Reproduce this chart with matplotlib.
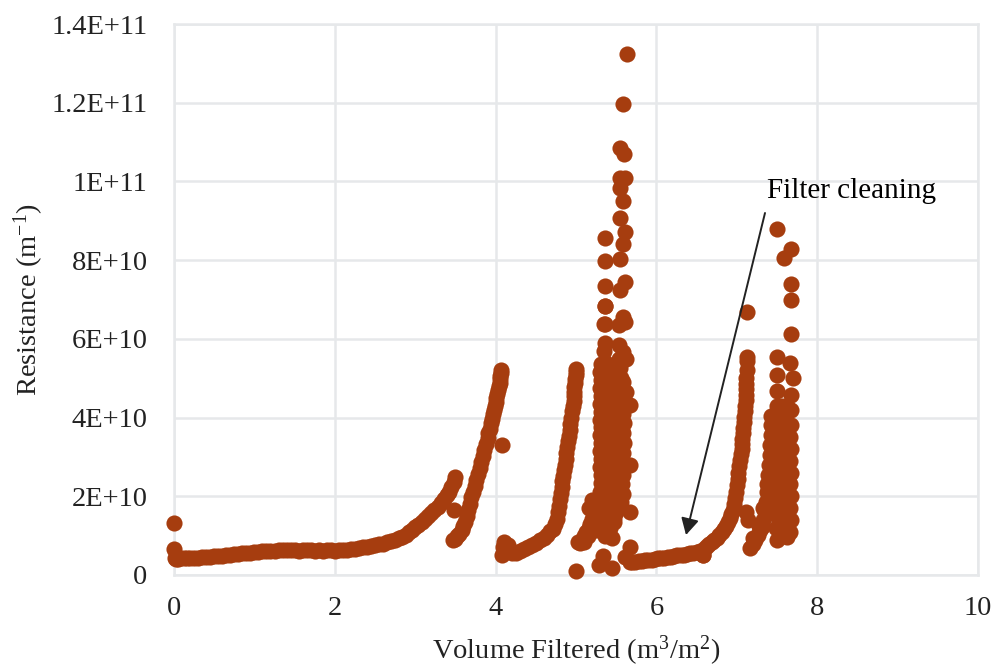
import matplotlib
matplotlib.use("Agg")
import matplotlib.pyplot as plt

plt.rcParams['font.family'] = ['Liberation Serif', 'DejaVu Serif']
plt.rcParams['mathtext.fontset'] = 'custom'
plt.rcParams['mathtext.rm'] = 'Liberation Serif'
plt.rcParams['mathtext.default'] = 'regular'

X_LABEL = "Volume Filtered (m$^{3}$/m$^{2}$)"
Y_LABEL = "Resistance (m$^{-1}$)"
X_TICKS = [0, 2, 4, 6, 8, 10]
Y_TICKS = [0, 2e10, 4e10, 6e10, 8e10, 1e11, 1.2e11, 1.4e11]
Y_TICK_LABELS = ["0", "2E+10", "4E+10", "6E+10", "8E+10", "1E+11", "1.2E+11", "1.4E+11"]

# y values below are in units of 1E+10
run1_x = [0.0,0.0,0.01,0.02,0.05,0.08,0.12,0.16,0.2,0.25,0.3,0.35,0.4,0.45,0.5,0.55,0.6,0.65,0.7,0.75,0.8,0.85,0.9,0.95,1.0,1.05,1.1,1.15,1.2,1.25,1.3,1.35,1.4,1.45,1.5,1.55,1.6,1.65,1.7,1.75,1.8,1.85,1.9,1.95,2.0,2.05,2.1,2.15,2.2,2.25,2.3,2.35,2.4,2.45,2.5,2.55,2.6,2.65,2.7,2.75,2.8,2.84,2.88,2.92,2.96,3.0,3.04,3.08,3.12,3.16,3.2,3.24,3.28,3.32,3.36,3.39,3.42,3.45,3.48,3.5]
run1_y = [1.32,0.66,0.42,0.4,0.41,0.42,0.42,0.43,0.43,0.44,0.44,0.45,0.46,0.47,0.48,0.49,0.48,0.51,0.52,0.53,0.54,0.55,0.56,0.57,0.58,0.59,0.6,0.61,0.61,0.62,0.63,0.63,0.63,0.64,0.63,0.62,0.63,0.63,0.64,0.61,0.63,0.62,0.63,0.63,0.62,0.64,0.64,0.64,0.65,0.66,0.68,0.7,0.72,0.74,0.76,0.78,0.8,0.83,0.86,0.89,0.93,0.96,1.02,1.08,1.14,1.21,1.28,1.35,1.42,1.5,1.58,1.66,1.74,1.83,1.93,2.02,2.12,2.24,2.37,2.5]

run2_x = [3.47,3.49,3.52,3.55,3.58,3.6,3.62,3.64,3.66,3.68,3.7,3.72,3.74,3.76,3.78,3.8,3.82,3.84,3.86,3.88,3.9,3.91,3.93,3.94,3.96,3.97,3.98,3.99,4.0,4.01,4.02,4.03,4.04,4.05,4.05,4.06,4.07,4.07]
run2_y = [0.9,0.92,0.98,1.05,1.15,1.25,1.35,1.5,1.65,1.8,1.98,2.12,2.27,2.42,2.57,2.72,2.88,3.02,3.18,3.32,3.48,3.6,3.72,3.85,3.97,4.1,4.2,4.3,4.4,4.5,4.6,4.7,4.8,4.88,4.97,5.05,5.12,5.2]

run3_x = [4.08,4.09,4.1,4.13,4.16,4.2,4.25,4.3,4.35,4.4,4.45,4.5,4.55,4.6,4.64,4.68,4.71,4.74,4.76,4.78,4.79,4.8,4.81,4.82,4.83,4.84,4.85,4.86,4.87,4.88,4.89,4.9,4.91,4.92,4.93,4.94,4.95,4.96,4.97,4.97,4.98,4.98,4.99,4.99,5.0,5.0,5.0]
run3_y = [0.52,0.72,0.84,0.6,0.76,0.55,0.57,0.6,0.66,0.7,0.75,0.82,0.88,0.95,1.02,1.12,1.18,1.3,1.42,1.6,1.75,1.92,2.08,2.24,2.38,2.52,2.66,2.8,2.96,3.1,3.24,3.4,3.54,3.68,3.84,4.0,4.16,4.3,4.42,4.54,4.66,4.78,4.88,4.98,5.08,5.16,5.24]

cloud1_rise_x = [5.0,5.03,5.05,5.08,5.1,5.13,5.16,5.18,5.2,5.22,5.24,5.26,5.27,5.28,5.29,5.3,5.3,5.31,5.31,5.3,5.31,5.3,5.31,5.3,5.31,5.3,5.31,5.3,5.31,5.3,5.31,5.3,5.31]
cloud1_rise_y = [0.1,0.84,0.82,0.9,1.0,1.1,1.2,1.3,1.42,1.55,1.3,1.7,1.5,1.95,1.7,2.1,1.9,2.35,2.55,2.75,2.95,3.15,3.35,3.55,3.75,3.95,4.15,4.35,4.55,4.75,4.95,5.15,5.35]
cloud1_low_x = [5.1,5.15,5.2,5.25,5.27,5.16,5.2,5.23,5.3,5.33]
cloud1_low_y = [0.85,1.0,1.2,1.15,1.4,1.7,1.9,1.75,1.15,1.3]
cloud1_b_x = [5.36,5.35,5.36,5.35,5.36,5.35,5.36,5.35,5.36,5.35,5.36,5.35,5.36,5.35,5.36,5.35,5.36,5.35,5.36,5.35,5.36,5.35,5.36]
cloud1_b_y = [1.0,1.25,1.5,1.75,2.0,2.25,2.5,2.75,3.0,3.25,3.5,3.75,4.0,4.25,4.5,4.75,5.0,5.2,5.4,5.69,5.89,6.38,6.83]
cloud1_c_x = [5.42,5.41,5.42,5.41,5.42,5.41,5.42,5.41,5.42,5.41,5.42,5.41,5.42,5.41,5.42,5.41]
cloud1_c_y = [1.2,1.45,1.7,1.95,2.2,2.45,2.7,2.95,3.2,3.45,3.7,3.95,4.2,4.45,4.7,5.0]
cloud1_d_x = [5.47,5.47,5.48,5.47,5.48,5.47,5.48,5.47,5.48,5.47,5.48,5.47,5.48,5.47,5.48,5.47,5.48]
cloud1_d_y = [1.35,1.45,1.7,1.95,2.2,2.45,2.7,2.95,3.2,3.45,3.7,3.95,4.2,4.4,4.7,5.0,5.25]
cloud1_e_x = [5.5,5.53,5.54,5.55,5.54,5.55,5.56,5.55,5.56,5.57,5.56,5.55,5.56,5.55,5.56,5.55,5.54]
cloud1_e_y = [1.6,1.75,1.9,2.15,2.4,2.65,2.9,3.15,3.4,3.65,3.9,4.1,4.4,4.65,5.0,5.25,5.5]
cloud1_f_x = [5.56,5.58,5.57,5.59,5.6,5.58,5.6,5.59,5.6,5.58,5.6]
cloud1_f_y = [1.85,2.05,2.3,2.55,2.85,3.1,3.35,3.6,3.85,4.1,4.35]

peak1_x = [5.63,5.58,5.55,5.6,5.55,5.61,5.55,5.58,5.55,5.61,5.58,5.55,5.36,5.36,5.36,5.61,5.55,5.36,5.36,5.58,5.61,5.54,5.54,5.59,5.62,5.67,5.67,5.67,5.45,5.34,5.28,5.45,5.62,5.59]
peak1_y = [13.24,11.97,10.85,10.7,10.08,10.08,9.83,9.5,9.07,8.71,8.41,8.03,8.56,7.98,7.34,7.44,7.24,6.83,6.38,6.55,6.43,6.35,5.84,5.67,5.49,4.32,2.79,1.6,0.94,0.48,0.25,0.18,4.65,4.9]

run4_x = [5.61,5.67,5.67,5.7,5.74,5.78,5.82,5.86,5.9,5.94,5.98,6.02,6.06,6.1,6.14,6.18,6.22,6.26,6.3,6.34,6.38,6.42,6.46,6.5,6.54,6.58,6.6,6.63,6.66,6.69,6.72,6.75,6.78,6.81,6.84,6.87,6.89,6.91,6.93,6.95,6.97,6.98,6.99,7.0,7.01,7.02,7.03,7.04,7.05,7.06,7.07,7.07,7.08,7.08,7.09,7.09,7.1,7.1,7.11,7.11,7.12,7.12,7.12,7.13,7.13]
run4_y = [0.46,0.71,0.33,0.33,0.34,0.35,0.36,0.37,0.38,0.39,0.41,0.42,0.43,0.44,0.45,0.47,0.48,0.5,0.51,0.52,0.53,0.55,0.56,0.59,0.62,0.5,0.68,0.73,0.78,0.83,0.89,0.95,1.02,1.1,1.17,1.25,1.34,1.44,1.54,1.66,1.8,1.96,2.12,2.28,2.44,2.6,2.76,2.92,3.08,3.2,3.34,3.46,3.6,3.74,3.88,4.02,4.16,4.3,4.44,4.58,4.72,4.86,5.0,5.2,5.45]

cloud2_rise_x = [7.12,7.14,7.16,7.2,7.23,7.26,7.29,7.31,7.33,7.35,7.36,7.37,7.38,7.39,7.4,7.41,7.41,7.42,7.42,7.43,7.2,7.27,7.33]
cloud2_rise_y = [1.6,1.4,0.69,0.78,0.9,1.02,1.14,1.22,1.4,1.6,1.85,2.1,2.3,2.55,2.8,3.05,3.3,3.55,3.8,4.05,0.95,1.25,1.7]
cloud2_b_x = [7.5,7.49,7.5,7.49,7.5,7.49,7.5,7.49,7.5,7.49,7.5,7.49,7.5]
cloud2_b_y = [0.89,1.2,1.5,1.8,2.1,2.4,2.7,3.0,3.3,3.6,3.85,4.1,4.3]
cloud2_c_x = [7.56,7.55,7.56,7.55,7.56,7.55,7.56,7.55,7.56,7.55,7.56,7.55,7.56]
cloud2_c_y = [1.0,1.3,1.6,1.9,2.2,2.5,2.8,3.1,3.4,3.7,3.95,4.15,4.3]
cloud2_d_x = [7.62,7.61,7.62,7.61,7.62,7.61,7.62,7.61,7.62,7.61,7.62,7.61,7.62]
cloud2_d_y = [0.97,1.2,1.5,1.8,2.1,2.4,2.7,3.0,3.3,3.6,3.85,4.1,4.3]
cloud2_e_x = [7.66,7.67,7.66,7.67,7.66,7.67,7.66,7.67,7.66,7.67,7.68,7.67]
cloud2_e_y = [1.1,1.4,1.7,2.0,2.3,2.6,2.9,3.2,3.5,3.8,4.2,4.57]
peak2_x = [7.13,7.5,7.68,7.59,7.67,7.67,7.67,7.5,7.5,7.5,7.66,7.7]
peak2_y = [6.68,8.79,8.28,8.05,7.39,6.99,6.12,4.68,5.08,5.54,5.38,5.0]

outlier_x = [3.48,4.08,7.13,6.58]
outlier_y = [1.65,3.3,5.54,0.5]

MARK = "#A63D0F"
GRID = "#E6E8EA"
FONT = 20.5

fig = plt.figure(figsize=(9.95, 6.69), dpi=100, facecolor="white")
ax = fig.add_axes([174/995, 1-575/669, (978-174)/995, (575-24)/669])
ax.set_xlim(0, 10)
ax.set_ylim(0, 1.4e11)
ax.set_xticks(X_TICKS)
ax.set_yticks(Y_TICKS)
ax.set_yticklabels(Y_TICK_LABELS)
ax.grid(True, color=GRID, lw=1.8, zorder=0)
ax.set_axisbelow(True)
for s in ax.spines.values():
    s.set_color(GRID)
    s.set_linewidth(1.8)
ax.tick_params(axis='y', length=0, labelsize=FONT, pad=19, colors="#222222")
ax.tick_params(axis='x', length=0, labelsize=FONT, pad=15, colors="#222222")

series = [(run1_x, run1_y), (run2_x, run2_y), (run3_x, run3_y),
          (cloud1_rise_x, cloud1_rise_y), (cloud1_low_x, cloud1_low_y), (cloud1_b_x, cloud1_b_y),
          (cloud1_c_x, cloud1_c_y), (cloud1_d_x, cloud1_d_y), (cloud1_e_x, cloud1_e_y), (cloud1_f_x, cloud1_f_y),
          (peak1_x, peak1_y), (run4_x, run4_y),
          (cloud2_rise_x, cloud2_rise_y), (cloud2_b_x, cloud2_b_y), (cloud2_c_x, cloud2_c_y),
          (cloud2_d_x, cloud2_d_y), (cloud2_e_x, cloud2_e_y), (peak2_x, peak2_y),
          (outlier_x, outlier_y)]
for xs, ys in series:
    ax.scatter(xs, [v * 1e10 for v in ys], s=135, color=MARK, linewidths=0, zorder=3, clip_on=False)

ax.set_xlabel(X_LABEL, fontsize=FONT, color="#222222")
ax.set_ylabel(Y_LABEL, fontsize=FONT, color="#222222")
ax.xaxis.set_label_coords(0.5, (575-634)/551)
ax.yaxis.set_label_coords((46-174)/804, 0.5)

ax.annotate("", xy=(686, 669-535), xycoords="figure pixels", xytext=(765, 669-213), textcoords="figure pixels",
            arrowprops=dict(arrowstyle="-|>,head_width=0.54,head_length=1.0", color="#222222", lw=1.4, shrinkA=0, shrinkB=0), zorder=5)
fig.text(767/995, 1-191.5/669, "Filter cleaning", fontsize=21, va="center", ha="left", color="black")

fig.savefig("out.png", dpi=100)
